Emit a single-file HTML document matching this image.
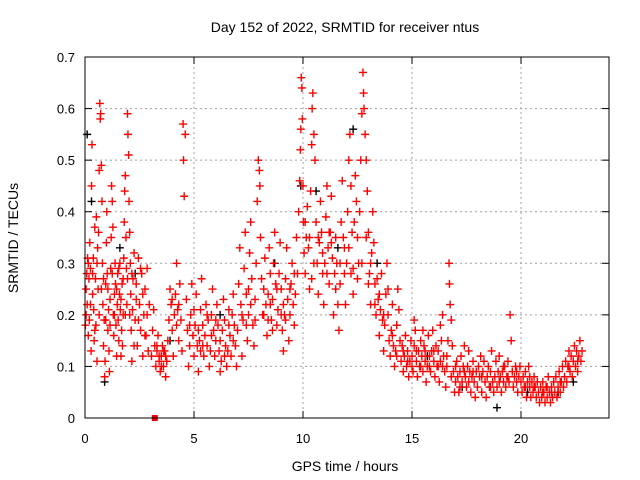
<!DOCTYPE html>
<html><head><meta charset="utf-8">
<style>
html,body{margin:0;padding:0;background:#fff;}
svg{display:block;font-family:"Liberation Sans",sans-serif;}
</style></head>
<body>
<svg id="chart" width="640" height="480" viewBox="0 0 640 480" xmlns="http://www.w3.org/2000/svg">
<text x="345" y="32" font-size="14" text-anchor="middle">Day 152 of 2022, SRMTID for receiver ntus</text>
<text x="345" y="471" font-size="14" text-anchor="middle">GPS time / hours</text>
<text x="0" y="0" font-size="14" text-anchor="middle" transform="translate(18,238) rotate(-90)">SRMTID / TECUs</text>
<g id="grid"></g>
<g id="ticks"></g>
<g id="marks"></g>
<rect x="85" y="57" width="524" height="361" fill="none" stroke="#000" stroke-width="1"/>
</svg>
<script>
const xTicks=[0,5,10,15,20];
const yTicks=[0,0.1,0.2,0.3,0.4,0.5,0.6,0.7];
const yTickLabels=["0","0.1","0.2","0.3","0.4","0.5","0.6","0.7"];
const obsNight=[[0.02,.18],[0.05,.25],[0.08,.28],[0.1,.22],[0.12,.31],[0.15,.16],[0.18,.27],[0.2,.19],[0.22,.34],[0.25,.29],[0.28,.13],[0.3,.45],[0.32,.53],[0.35,.24],[0.38,.31],[0.4,.21],[0.42,.15],[0.45,.37],[0.48,.27],[0.5,.18],[0.52,.39],[0.55,.11],[0.58,.33],[0.6,.25],[0.62,.36],[0.65,.48],[0.68,.61],[0.7,.58],[0.72,.59],[0.75,.49],[0.78,.42],[0.8,.3],[0.82,.22],[0.85,.14],[0.88,.19],[0.9,.08],[0.92,.11],[0.95,.26],[0.98,.34],[1.0,.4],[1.02,.28],[1.05,.17],[1.08,.21],[1.1,.13],[1.12,.09],[1.15,.23],[1.18,.29],[1.2,.35],[1.22,.45],[1.25,.42],[1.28,.37],[1.3,.2],[1.32,.16],[1.35,.24],[1.38,.3],[1.4,.26],[1.42,.18],[1.45,.12],[1.48,.22],[1.5,.28],[1.52,.19],[1.55,.15],[1.58,.24],[1.6,.3],[1.62,.21],[1.65,.12],[1.68,.17],[1.7,.26],[1.72,.14],[1.75,.2],[1.78,.31],[1.8,.38],[1.82,.44],[1.85,.47],[1.88,.35],[1.9,.29],[1.92,.22],[1.95,.59],[1.97,.55],[2.0,.51],[2.02,.42],[2.05,.36],[2.08,.3],[2.1,.24],[2.12,.17],[2.15,.11],[2.18,.21],[2.2,.27],[2.25,.32],[2.3,.19],[2.35,.26],[2.4,.14],[2.45,.31],[2.5,.22],[2.55,.17],[2.6,.28],[2.65,.12],[2.7,.2],[2.75,.25],[2.8,.16],[2.85,.29],[2.9,.13],[2.95,.22],[0.05,.2],[0.15,.3],[0.25,.22],[0.35,.28],[0.45,.17],[0.55,.3],[0.65,.2],[0.75,.25],[0.85,.27],[0.95,.19],[1.05,.25],[1.15,.18],[1.25,.28],[1.35,.2],[1.45,.25],[1.55,.29],[1.65,.23],[1.75,.27],[1.85,.2],[1.95,.27],[2.05,.2],[2.15,.28],[2.25,.14],[2.35,.23],[2.45,.19],[2.55,.29],[2.65,.24],[2.75,.16],[2.85,.2]];
const obsMorning=[[3.05,.12],[3.1,.17],[3.15,.21],[3.2,.14],[3.25,.1],[3.3,.13],[3.35,.16],[3.4,.11],[3.45,.09],[3.5,.12],[3.55,.14],[3.6,.1],[3.65,.13],[3.7,.08],[3.75,.11],[3.8,.15],[3.85,.19],[3.9,.25],[3.95,.22],[4.0,.17],[4.05,.12],[4.1,.2],[4.15,.24],[4.2,.3],[4.25,.21],[4.3,.15],[4.35,.26],[4.4,.19],[4.45,.13],[4.5,.57],[4.52,.5],[4.55,.43],[4.6,.55],[4.65,.23],[4.7,.17],[4.75,.1],[4.8,.14],[4.85,.2],[4.9,.26],[4.95,.16],[5.0,.12],[5.05,.18],[5.1,.24],[5.15,.14],[5.2,.09],[5.25,.15],[5.3,.21],[5.35,.27],[5.4,.18],[5.45,.12],[5.5,.16],[5.55,.22],[5.6,.14],[5.65,.19],[5.7,.1],[5.75,.13],[5.8,.2],[5.85,.25],[5.9,.17],[5.95,.12],[6.0,.15],[6.05,.22],[6.1,.18],[6.15,.13],[6.2,.09],[6.25,.11],[6.3,.17],[6.35,.23],[6.4,.19],[6.45,.14],[6.5,.1],[6.55,.13],[6.6,.21],[6.65,.16],[6.7,.12],[6.75,.2],[6.8,.24],[6.85,.18],[6.9,.14],[6.95,.1],[3.3,.14],[3.4,.12],[3.5,.1],[3.6,.13],[3.7,.12],[4.0,.23],[4.2,.18],[4.8,.18],[5.0,.21],[5.2,.17],[5.4,.14],[5.6,.2],[5.8,.16],[6.0,.19],[6.2,.15],[6.4,.12],[6.6,.18],[6.8,.15],[5.3,.13],[4.3,.22]];
const obsMidday=[[7.0,.17],[7.05,.26],[7.1,.33],[7.15,.22],[7.2,.12],[7.25,.19],[7.3,.29],[7.35,.36],[7.4,.24],[7.45,.15],[7.5,.2],[7.55,.32],[7.6,.38],[7.65,.27],[7.7,.18],[7.75,.14],[7.8,.23],[7.85,.3],[7.9,.42],[7.95,.5],[8.0,.48],[8.02,.45],[8.05,.35],[8.1,.27],[8.15,.2],[8.2,.25],[8.25,.31],[8.3,.22],[8.35,.16],[8.4,.24],[8.45,.33],[8.5,.28],[8.55,.19],[8.6,.23],[8.65,.3],[8.7,.36],[8.75,.26],[8.8,.18],[8.85,.21],[8.9,.28],[8.95,.34],[9.0,.25],[9.05,.17],[9.1,.13],[9.15,.2],[9.2,.27],[9.25,.33],[9.3,.23],[9.35,.15],[9.4,.2],[9.45,.26],[9.5,.3],[9.55,.22],[9.6,.18],[9.65,.24],[9.7,.35],[9.75,.28],[9.8,.4],[9.85,.46],[9.88,.52],[9.9,.56],[9.92,.66],[9.95,.64],[9.97,.58],[7.2,.2],[7.4,.18],[7.6,.22],[7.8,.19],[8.2,.2],[8.4,.19],[8.6,.17],[8.8,.25],[9.0,.2],[9.2,.19],[9.4,.25],[9.6,.28],[7.5,.25],[8.5,.22],[9.1,.22]];
const obsAfternoon=[[10.0,.45],[10.02,.38],[10.05,.32],[10.1,.28],[10.15,.35],[10.2,.41],[10.25,.33],[10.3,.25],[10.35,.44],[10.4,.53],[10.42,.6],[10.45,.63],[10.5,.55],[10.55,.5],[10.6,.38],[10.65,.3],[10.7,.24],[10.75,.34],[10.8,.42],[10.85,.36],[10.9,.28],[10.95,.22],[11.0,.3],[11.05,.39],[11.1,.45],[11.15,.33],[11.2,.26],[11.25,.36],[11.3,.43],[11.35,.31],[11.4,.2],[11.45,.28],[11.5,.35],[11.55,.3],[11.6,.22],[11.65,.17],[11.7,.26],[11.75,.38],[11.8,.46],[11.85,.35],[11.9,.28],[11.95,.22],[12.0,.3],[12.05,.4],[12.1,.5],[12.15,.55],[12.2,.45],[12.25,.36],[12.3,.29],[12.35,.38],[12.4,.47],[12.45,.42],[12.5,.35],[12.55,.3],[12.6,.4],[12.65,.5],[12.7,.59],[12.75,.67],[12.78,.63],[12.8,.6],[12.85,.55],[12.9,.5],[12.95,.44],[13.0,.36],[13.05,.28],[13.1,.22],[13.15,.32],[13.2,.4],[13.25,.34],[13.3,.26],[13.35,.2],[13.4,.27],[13.45,.23],[13.5,.16],[13.55,.21],[13.6,.28],[13.65,.19],[13.7,.13],[13.75,.18],[13.8,.24],[13.85,.3],[13.9,.2],[13.95,.15],[14.0,.12],[14.05,.17],[14.1,.22],[14.15,.14],[14.2,.1],[14.25,.13],[14.3,.18],[14.35,.25],[14.4,.21],[14.45,.15],[10.1,.38],[10.3,.35],[10.5,.3],[10.7,.35],[10.9,.32],[11.1,.28],[11.3,.34],[11.5,.25],[11.7,.3],[11.9,.33],[12.1,.33],[12.3,.24],[12.5,.27],[12.7,.3],[12.9,.35],[13.1,.3],[13.3,.22],[13.5,.24],[13.7,.2],[13.9,.25],[14.1,.16],[14.3,.12],[10.4,.27],[11.2,.36],[12.2,.28],[13.0,.26]];
const obsEvening=[[14.5,.11],[14.55,.14],[14.6,.09],[14.65,.12],[14.7,.16],[14.75,.1],[14.8,.13],[14.85,.08],[14.9,.11],[14.95,.15],[15.0,.12],[15.05,.09],[15.1,.14],[15.15,.17],[15.2,.11],[15.25,.08],[15.3,.13],[15.35,.1],[15.4,.15],[15.45,.12],[15.5,.09],[15.55,.14],[15.6,.11],[15.65,.07],[15.7,.1],[15.75,.16],[15.8,.12],[15.85,.09],[15.9,.13],[15.95,.17],[16.0,.11],[16.05,.08],[16.1,.14],[16.15,.1],[16.2,.13],[16.25,.07],[16.3,.11],[16.35,.15],[16.4,.2],[16.45,.12],[16.5,.09],[16.55,.06],[16.6,.1],[16.65,.15],[16.7,.3],[16.72,.26],[16.75,.22],[16.8,.19],[16.85,.14],[16.9,.09],[16.95,.05],[17.0,.07],[17.05,.11],[17.1,.08],[17.15,.05],[17.2,.09],[17.25,.12],[17.3,.07],[17.35,.1],[17.4,.14],[17.45,.08],[17.5,.06],[17.55,.1],[17.6,.13],[17.65,.09],[17.7,.05],[17.75,.08],[17.8,.11],[17.85,.07],[17.9,.04],[17.95,.09],[14.6,.13],[14.8,.11],[15.0,.1],[15.2,.13],[15.4,.1],[15.6,.13],[15.8,.1],[16.0,.13],[16.2,.1],[16.4,.1],[16.6,.12],[16.8,.08],[17.0,.1],[17.2,.06],[17.4,.09],[17.6,.07],[17.8,.09],[15.1,.19],[15.5,.17],[16.3,.18]];
const obsLate=[[18.0,.06],[18.05,.1],[18.1,.08],[18.15,.12],[18.2,.05],[18.25,.09],[18.3,.11],[18.35,.07],[18.4,.04],[18.45,.08],[18.5,.1],[18.55,.06],[18.6,.09],[18.65,.13],[18.7,.07],[18.75,.05],[18.8,.08],[18.85,.11],[18.9,.06],[18.95,.09],[19.0,.12],[19.05,.08],[19.1,.05],[19.15,.09],[19.2,.07],[19.25,.1],[19.3,.06],[19.35,.08],[19.4,.11],[19.45,.07],[19.5,.2],[19.55,.15],[19.6,.09],[19.65,.06],[19.7,.08],[19.75,.1],[19.8,.07],[19.85,.05],[19.9,.08],[19.95,.1],[20.0,.07],[20.05,.05],[20.1,.08],[20.15,.06],[20.2,.09],[20.25,.04],[20.3,.07],[20.35,.1],[20.4,.06],[20.45,.04],[20.5,.07],[20.55,.05],[20.6,.08],[20.65,.06],[20.7,.04],[20.75,.07],[20.8,.05],[20.85,.03],[20.9,.06],[20.95,.04],[21.0,.07],[21.05,.05],[21.1,.03],[21.15,.06],[21.2,.04],[21.25,.08],[21.3,.05],[21.35,.03],[21.4,.06],[21.45,.04],[21.5,.07],[21.55,.05],[21.6,.08],[21.65,.04],[21.7,.06],[21.75,.09],[21.8,.05],[21.85,.07],[21.9,.1],[21.95,.06],[22.0,.08],[22.05,.11],[22.1,.07],[22.15,.1],[22.2,.13],[22.25,.09],[22.3,.12],[22.35,.08],[22.4,.11],[22.45,.14],[22.5,.1],[22.55,.13],[22.6,.09],[22.65,.12],[22.7,.15],[22.75,.11],[22.8,.13],[18.2,.08],[18.6,.06],[19.0,.07],[19.4,.08],[19.8,.09],[20.2,.06],[20.6,.06],[21.0,.05],[21.4,.05],[21.8,.07],[22.2,.1],[22.6,.11],[20.4,.08],[21.2,.06],[19.2,.1]];
const obsBlack=[[0.1,.55],[0.3,.42],[0.9,.07],[1.6,.33],[2.3,.28],[3.9,.15],[6.2,.2],[8.7,.3],[9.9,.45],[10.6,.44],[11.6,.33],[12.3,.56],[13.4,.3],[14.3,.18],[15.7,.12],[17.3,.06],[18.9,.02],[20.3,.05],[21.7,.05],[22.4,.07]];
const obsOutlier=[[3.2,0]];

const X0=85,XPH=21.8,Y0=418,YPU=515.7;
function xs(t){return X0+t*XPH;}
function ys(v){return Y0-v*YPU;}
const NS="http://www.w3.org/2000/svg";
const grid=document.getElementById('grid'),ticks=document.getElementById('ticks'),marks=document.getElementById('marks');
function mk(tag,attrs,parent){const e=document.createElementNS(NS,tag);for(const k in attrs)e.setAttribute(k,attrs[k]);parent.appendChild(e);return e;}
xTicks.forEach(t=>{
  const x=xs(t);
  if(t>0){const g=mk('line',{x1:x,x2:x,y1:57,y2:418,stroke:'#a0a0a0','stroke-dasharray':'2,3'},grid);
  
  }
  const a=mk('line',{x1:x,x2:x,y1:418,y2:411,stroke:'#000'},ticks);
  
  
  const b=mk('line',{x1:x,x2:x,y1:57,y2:64,stroke:'#000'},ticks);
  
  
  const l=mk('text',{x:x,y:443,'font-size':13,'text-anchor':'middle'},ticks);l.textContent=t;
  
  
});
yTicks.forEach((v,i)=>{
  const y=ys(v);
  if(v>0&&v<0.7){const g=mk('line',{x1:85,x2:609,y1:y,y2:y,stroke:'#a0a0a0','stroke-dasharray':'2,3'},grid);
  
  }
  const a=mk('line',{x1:85,x2:92,y1:y,y2:y,stroke:'#000'},ticks);
  
  
  const b=mk('line',{x1:602,x2:609,y1:y,y2:y,stroke:'#000'},ticks);
  
  
  const l=mk('text',{x:75,y:y+5,'font-size':13,'text-anchor':'end'},ticks);l.textContent=yTickLabels[i];
  
  
});
function plus(p,color,name){
  const x=xs(p[0]),y=ys(p[1]);
  const e=mk('path',{d:`M${x-4},${y}h8M${x},${y-4}v8`,stroke:color,'stroke-width':1.4,fill:'none'},marks);
  
  
}
obsBlack.forEach(p=>plus(p,'#000','gps-point'));
[obsNight,obsMorning,obsMidday,obsAfternoon,obsEvening,obsLate].forEach(s=>s.forEach(p=>plus(p,'#ff0000','srmtid-point')));
obsOutlier.forEach(p=>{
  const e=mk('rect',{x:xs(p[0])-3,y:ys(p[1])-3,width:6,height:6,fill:'#ee0000'},marks);
  
  
});
</script>
</body></html>
